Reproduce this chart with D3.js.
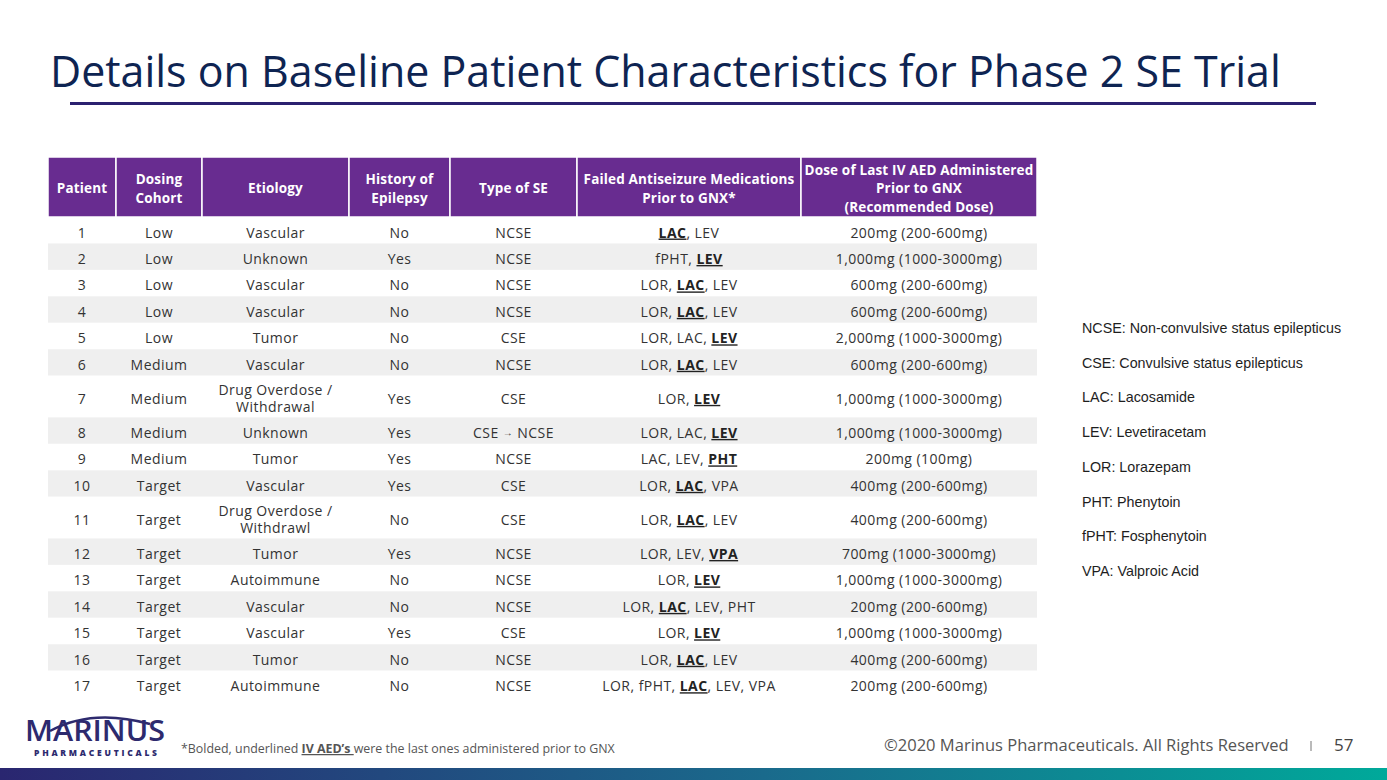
<!DOCTYPE html>
<html><head><meta charset="utf-8">
<script src="https://cdn.jsdelivr.net/npm/d3@7"></script>
<style>
html,body{margin:0;padding:0;background:#fff;}
svg{display:block;}
</style></head>
<body>
<script>
// ---------- DATA ----------
const title = "Details on Baseline Patient Characteristics for Phase 2 SE Trial";
const headers = [["Patient"],["Dosing","Cohort"],["Etiology"],["History of","Epilepsy"],["Type of SE"],["Failed Antiseizure Medications","Prior to GNX*"],["Dose of Last IV AED Administered","Prior to GNX","(Recommended Dose)"]];
const patients = [1,2,3,4,5,6,7,8,9,10,11,12,13,14,15,16,17];
const cohorts = ["Low","Low","Low","Low","Low","Medium","Medium","Medium","Medium","Target","Target","Target","Target","Target","Target","Target","Target"];
const etiologies = ["Vascular","Unknown","Vascular","Vascular","Tumor","Vascular","Drug Overdose /|Withdrawal","Unknown","Tumor","Vascular","Drug Overdose /|Withdrawl","Tumor","Autoimmune","Vascular","Vascular","Tumor","Autoimmune"];
const epilepsyHistory = ["No","Yes","No","No","No","No","Yes","Yes","Yes","Yes","No","Yes","No","No","Yes","No","No"];
const seTypes = ["NCSE","NCSE","NCSE","NCSE","CSE","NCSE","CSE","CSE → NCSE","NCSE","CSE","CSE","NCSE","NCSE","NCSE","CSE","NCSE","NCSE"];
const failedMeds = [["LAC","LEV"],["fPHT","LEV"],["LOR","LAC","LEV"],["LOR","LAC","LEV"],["LOR","LAC","LEV"],["LOR","LAC","LEV"],["LOR","LEV"],["LOR","LAC","LEV"],["LAC","LEV","PHT"],["LOR","LAC","VPA"],["LOR","LAC","LEV"],["LOR","LEV","VPA"],["LOR","LEV"],["LOR","LAC","LEV","PHT"],["LOR","LEV"],["LOR","LAC","LEV"],["LOR","fPHT","LAC","LEV","VPA"]];
const lastAED = ["LAC","LEV","LAC","LAC","LEV","LAC","LEV","LEV","PHT","LAC","LAC","VPA","LEV","LAC","LEV","LAC","LAC"];
const doses = ["200mg (200-600mg)","1,000mg (1000-3000mg)","600mg (200-600mg)","600mg (200-600mg)","2,000mg (1000-3000mg)","600mg (200-600mg)","1,000mg (1000-3000mg)","1,000mg (1000-3000mg)","200mg (100mg)","400mg (200-600mg)","400mg (200-600mg)","700mg (1000-3000mg)","1,000mg (1000-3000mg)","200mg (200-600mg)","1,000mg (1000-3000mg)","400mg (200-600mg)","200mg (200-600mg)"];
const glossary = ["NCSE: Non-convulsive status epilepticus","CSE: Convulsive status epilepticus","LAC: Lacosamide","LEV: Levetiracetam","LOR: Lorazepam","PHT: Phenytoin","fPHT: Fosphenytoin","VPA: Valproic Acid"];
const footnote = ["*Bolded, underlined ","IV AED’s ","were the last ones administered prior to GNX"];
const copyright = "©2020 Marinus Pharmaceuticals. All Rights Reserved";
const pageNumber = "57";

// ---------- LAYOUT ----------
const W = 1387, H = 780;
const FONT = "'Open Sans', 'Noto Sans', sans-serif";
const colEdges = [48,116,202,349,450,577,801,1037];
const tableTop = 157, headerH = 60, unitH = 26.45, doubleH = 41.7;
const BODY_FS = 14, BODY_LS = 0.45;

const svg = d3.select("body").append("svg").attr("width",W).attr("height",H);
const defs = svg.append("defs");
const grad = defs.append("linearGradient").attr("id","foot").attr("x1","0").attr("x2","1");
grad.append("stop").attr("offset","0").attr("stop-color","#2a2670");
grad.append("stop").attr("offset","0.55").attr("stop-color","#1a6a8c");
grad.append("stop").attr("offset","1").attr("stop-color","#00a99a");

function fit(sel, w){ const n=sel.node(); const l=n.getComputedTextLength(); if(l>0){ const fs=parseFloat(sel.attr("font-size")); sel.attr("font-size", fs*w/l);} return sel;}

// title
fit(svg.append("text").attr("x",50).attr("y",87).attr("font-family","'Open Sans', sans-serif").attr("font-weight",400)
  .attr("font-size",44).attr("fill","#0e2452").text(title), 1231);
svg.append("line").attr("x1",70).attr("x2",1316).attr("y1",103.5).attr("y2",103.5).attr("stroke","#2b2170").attr("stroke-width",3);

// table scales
const rowsH = etiologies.map(e => e.includes("|") ? doubleH : unitH);
const rowY = []; let acc = tableTop + headerH; rowsH.forEach(h => { rowY.push(acc); acc += h; });
const cx = i => (colEdges[i]+colEdges[i+1])/2;

// header
const hdr = svg.append("g");
hdr.selectAll("rect").data(headers).join("rect")
  .attr("x",(d,i)=>colEdges[i]).attr("y",tableTop).attr("width",(d,i)=>colEdges[i+1]-colEdges[i]).attr("height",headerH)
  .attr("fill","#682c90").attr("stroke","#fff").attr("stroke-width",1.5);
headers.forEach((lines,i)=>{
  const lh = 18.5, y0 = tableTop + headerH/2 - (lines.length-1)*lh/2 + 6.3;
  lines.forEach((t,j)=>{
    hdr.append("text").attr("x",cx(i)).attr("y",y0+j*lh).attr("text-anchor","middle")
      .attr("font-family",FONT).attr("font-weight",700).attr("font-size",13.5).attr("letter-spacing",0.15).attr("fill","#fff").text(t);
  });
});

// body
const body = svg.append("g");
body.selectAll("rect").data(patients).join("rect")
  .attr("x",colEdges[0]).attr("y",(d,i)=>rowY[i]).attr("width",colEdges[7]-colEdges[0]).attr("height",(d,i)=>rowsH[i])
  .attr("fill",(d,i)=> i%2===1 ? "#efefef" : "#fff");

const TXT = "#333";
const DY = 7.3;
function baseText(x,y){
  return body.append("text").attr("x",x).attr("y",y).attr("text-anchor","middle")
    .attr("font-family",FONT).attr("font-size",BODY_FS).attr("letter-spacing",BODY_LS).attr("fill",TXT);
}
function cellText(col, rowIdx, str){
  const parts = str.split("|"); const lh = 17;
  const yc = rowY[rowIdx] + rowsH[rowIdx]/2;
  parts.forEach((p,j)=>{ baseText(cx(col), yc - (parts.length-1)*lh/2 + j*lh + DY).text(p); });
}
patients.forEach((p,i)=>{
  cellText(0,i,String(p));
  cellText(1,i,cohorts[i]);
  cellText(2,i,etiologies[i]);
  cellText(3,i,epilepsyHistory[i]);
  const yc = rowY[i]+rowsH[i]/2+DY;
  if(seTypes[i].includes("→")){
    const t = baseText(cx(4),yc);
    const [a,b] = seTypes[i].split("→");
    t.append("tspan").text(a);
    t.append("tspan").attr("font-size",10).attr("dy",-1.5).text("→");
    t.append("tspan").attr("dy",1.5).text(b);
  } else cellText(4,i,seTypes[i]);
  const t = baseText(cx(5),yc);
  failedMeds[i].forEach((m,k)=>{
    const last = m===lastAED[i];
    t.append("tspan").attr("font-weight", last?700:400).attr("fill", last?"#222":TXT)
      .attr("text-decoration", last?"underline":null).text(m);
    if(k<failedMeds[i].length-1) t.append("tspan").text(", ");
  });
  cellText(6,i,doses[i]);
});

// glossary
svg.append("g").selectAll("text").data(glossary).join("text")
  .attr("x",1082).attr("y",(d,i)=>333+i*34.7).attr("font-family","'Liberation Sans', Arial, sans-serif")
  .attr("font-size",14.3).attr("fill","#1e1e1e").text(d=>d);

// footer
const fn = svg.append("text").attr("x",181).attr("y",753).attr("font-family",FONT).attr("font-size",11).attr("fill","#555");
fn.append("tspan").text(footnote[0]);
fn.append("tspan").attr("font-weight",700).attr("text-decoration","underline").text(footnote[1]);
fn.append("tspan").text(footnote[2]);
fit(fn, 434);

fit(svg.append("text").attr("x",884).attr("y",751).attr("font-family",FONT).attr("font-size",15).attr("fill","#555").text(copyright), 405);
svg.append("line").attr("x1",1311).attr("x2",1311).attr("y1",741).attr("y2",751).attr("stroke","#777").attr("stroke-width",1);
svg.append("text").attr("x",1334).attr("y",751).attr("font-family",FONT).attr("font-size",17).attr("fill","#444").text(pageNumber);

// logo
const logo = svg.append("g");
logo.append("path").attr("d","M50,731 Q92,708 150,724").attr("fill","none").attr("stroke","#2d2a6e").attr("stroke-width",2.5);
logo.append("text").attr("x",25).attr("y",741).attr("font-family","'Open Sans', sans-serif").attr("font-weight",600)
  .attr("font-size",29).attr("fill","#2d2a6e").attr("textLength",140).attr("lengthAdjust","spacingAndGlyphs").text("MARINUS");
logo.append("text").attr("x",34).attr("y",756).attr("font-family","'Open Sans', sans-serif").attr("font-weight",800)
  .attr("font-size",8.5).attr("fill","#2d2a6e").attr("textLength",123).attr("lengthAdjust","spacing").text("PHARMACEUTICALS");

svg.append("rect").attr("x",0).attr("y",768).attr("width",W).attr("height",12).attr("fill","url(#foot)");
</script>
</body></html>
